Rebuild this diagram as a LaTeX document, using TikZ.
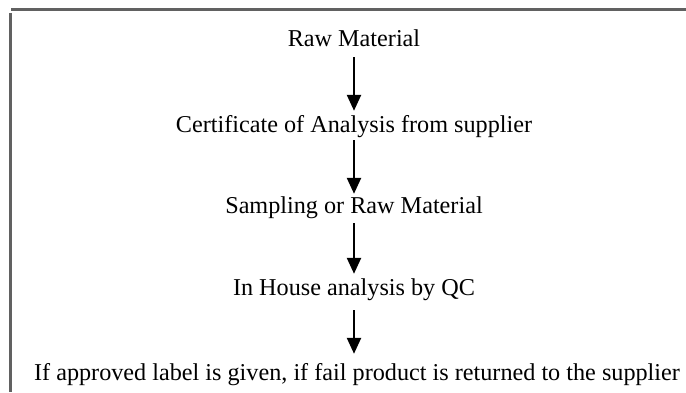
\documentclass[tikz,border=0pt]{standalone}
\usepackage{fontspec}
\setmainfont{Liberation Serif}
\usetikzlibrary{arrows.meta}
\begin{document}
\begin{tikzpicture}[x=1pt,y=1pt,
  lbl/.style={anchor=base,inner sep=0pt,text height=22pt,text depth=9pt,font=\fontsize{24.2}{28}\selectfont},
  arr/.style={line width=2.4pt,-{Triangle[width=14pt,length=16pt]}},
  frame/.style={draw=black!62,line width=3pt}]
\useasboundingbox (0,0) rectangle (686,392);
\draw[frame] (11,382) -- (686,382);
\draw[frame,line width=3.5pt] (10.5,379) -- (10.5,0);
\node[lbl] (a) at (354,345) {Raw Material};
\node[lbl] (b) at (354,260) {Certificate of Analysis from supplier};
\node[lbl] (c) at (354,179) {Sampling or Raw Material};
\node[lbl] (d) at (354,97) {In House analysis by QC};
\node[lbl] (e) at (357,12) {If approved label is given, if fail product is returned to the supplier};
\draw[arr,shorten <=1pt,shorten >=-1pt] (a.south) -- (b.north);
\draw[arr,shorten <=-1pt,shorten >=-3pt] (b.south) -- (c.north);
\draw[arr,shorten <=1pt,shorten >=-1pt] (c.south) -- (d.north);
\draw[arr,shorten <=6pt,shorten >=4pt] (d.south) -- ([xshift=-3pt]e.north);
\end{tikzpicture}
\end{document}
